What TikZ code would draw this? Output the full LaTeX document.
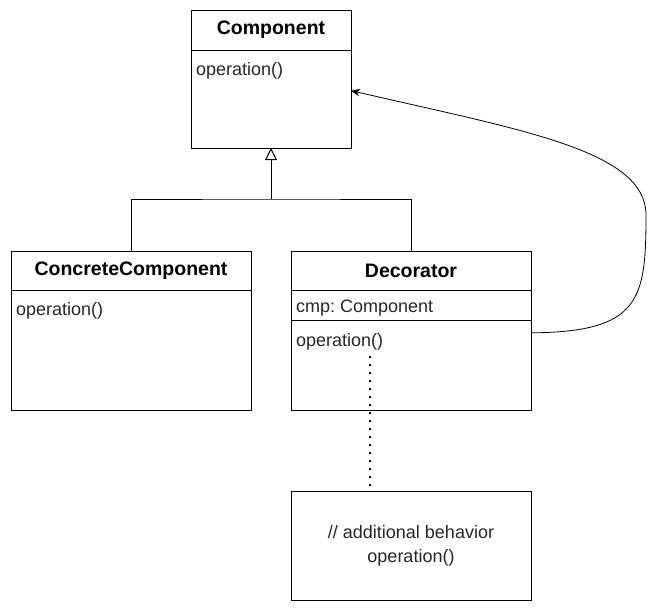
\documentclass[tikz,border=0pt]{standalone}
\usepackage{fontspec}
\setmainfont{Liberation Sans}
\usetikzlibrary{positioning,arrows.meta}

\begin{document}
\frenchspacing
\begin{tikzpicture}[x=1pt,y=-1pt,
    box/.style={draw,line width=1pt,anchor=north west,inner sep=0pt,outer sep=0pt},
    head/.style={box,font=\fontsize{19.5}{23}\selectfont\bfseries},
    member/.style={anchor=west,inner sep=0pt,text=black!85,font=\fontsize{18}{22}\selectfont},
    edge/.style={line width=1pt}]

    \useasboundingbox (0,0) rectangle (657,611);

    % Component
    \node[head,minimum width=160pt,minimum height=40pt] (compHead) at (191,10) {Component};
    \node[box,minimum width=160pt,minimum height=98pt,below=0pt of compHead] (compBody) {};
    \node[member] (compOp) at (196,70.5) {operation()};

    % ConcreteComponent
    \node[head,minimum width=240pt,minimum height=39pt] (concHead) at (11,251) {ConcreteComponent};
    \node[box,minimum width=240pt,minimum height=120pt,below=0pt of concHead] (concBody) {};
    \node[member] (concOp) at (16,310.5) {operation()};

    % Decorator
    \node[head,minimum width=240pt,minimum height=39pt] (decHead) at (291,251) {Decorator};
    \node[box,minimum width=240pt,minimum height=30pt,below=0pt of decHead] (decAttr) {};
    \node[box,minimum width=240pt,minimum height=90pt,below=0pt of decAttr] (decOps) {};
    \node[member] (decCmp) at (296,308.5) {cmp: Component};
    \node[member] (decOp) at (296,341.5) {operation()};

    % note
    \node[box,minimum width=240pt,minimum height=109pt,align=center,text=black!85,
          font=\fontsize{18}{24}\selectfont] (note) at (291,491) {// additional behavior\\operation()};

    % inheritance
    \coordinate (split) at (271,199);
    \draw[edge] (concHead.north) |- (split) -| (decHead.north);
    \draw[edge,-{Triangle[open,length=12pt,width=12pt]}] (split) -- (compBody.south);

    % cmp reference
    \draw[line width=0.8pt,-{Stealth[length=9pt,width=7.5pt]}] (decOps.15)
        .. controls (640,332) and (646,300) .. (646,215)
        .. controls (646,150) and (520,130) .. (compBody.6);

    % note link
    \coordinate (dotTop) at (370,356);
    \draw[line width=2pt,dash pattern=on 2pt off 6pt] (dotTop) -- (dotTop |- note.north);

\end{tikzpicture}
\end{document}
